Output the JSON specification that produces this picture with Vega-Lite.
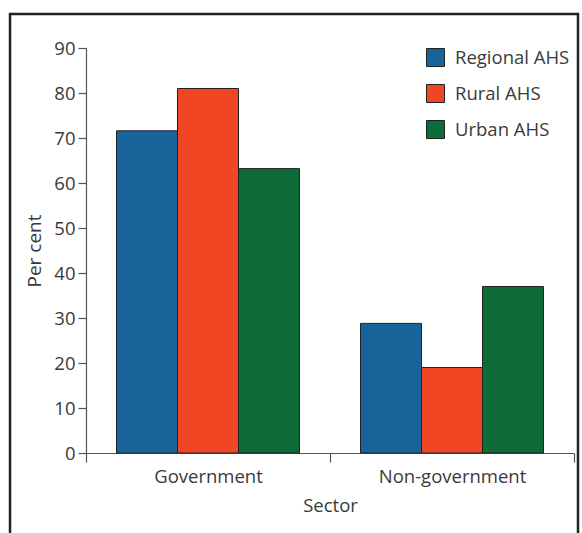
{
  "$schema": "https://vega.github.io/schema/vega-lite/v6.json",
  "width": 488,
  "height": 405,
  "autosize": {"type": "none"},
  "padding": {"left": 86, "top": 48, "right": 8, "bottom": 80},
  "background": "white",
  "config": {"view": {"stroke": null}, "font": "Open Sans"},
  "layer": [
    {
      "data": {"values": [
        {"sector": "Government", "hospital": "Regional AHS", "percent": 71.6},
        {"sector": "Government", "hospital": "Rural AHS", "percent": 81.0},
        {"sector": "Government", "hospital": "Urban AHS", "percent": 63.2},
        {"sector": "Non-government", "hospital": "Regional AHS", "percent": 28.8},
        {"sector": "Non-government", "hospital": "Rural AHS", "percent": 19.0},
        {"sector": "Non-government", "hospital": "Urban AHS", "percent": 37.0}
      ]},
      "mark": {"type": "bar", "stroke": "#222", "strokeWidth": 1},
      "encoding": {
        "x": {
          "field": "sector", "type": "nominal", "sort": ["Government", "Non-government"],
          "scale": {"paddingInner": 0, "paddingOuter": 0},
          "axis": {"title": "Sector", "labelAngle": 0, "tickBand": "extent", "tickSize": 9,
            "labelFontSize": 18.5, "labelColor": "#3a3a3a", "labelPadding": 5, "labelFontWeight": "normal",
            "titleFontSize": 18.5, "titleFontWeight": "normal", "titleColor": "#3a3a3a", "titlePadding": 11,
            "domainColor": "#555", "tickColor": "#555", "domainWidth": 1.2, "tickWidth": 1.2}
        },
        "xOffset": {
          "field": "hospital", "type": "nominal", "sort": ["Regional AHS", "Rural AHS", "Urban AHS"],
          "scale": {"paddingInner": 0, "paddingOuter": 0.5}
        },
        "y": {
          "field": "percent", "type": "quantitative",
          "scale": {"domain": [0, 90], "nice": false},
          "axis": {"title": "Per cent", "values": [0, 10, 20, 30, 40, 50, 60, 70, 80, 90], "grid": false,
            "tickSize": 8, "labelFontSize": 18.5, "labelColor": "#3a3a3a", "labelPadding": 3,
            "titleFontSize": 19, "titleFontWeight": "normal", "titleColor": "#3a3a3a", "titlePadding": 9,
            "domainColor": "#555", "tickColor": "#555", "domainWidth": 1.2, "tickWidth": 1.2}
        },
        "color": {
          "field": "hospital", "type": "nominal",
          "scale": {"domain": ["Regional AHS", "Rural AHS", "Urban AHS"], "range": ["#17639a", "#f04623", "#0f6b38"]},
          "legend": {"title": null, "orient": "none", "legendX": 340, "legendY": 0,
            "symbolType": "square", "symbolSize": 324, "symbolStrokeColor": "#222", "symbolStrokeWidth": 1,
            "symbolOpacity": 1,
            "labelFontSize": 18.5, "labelColor": "#3a3a3a", "labelOffset": 10, "rowPadding": 13}
        }
      }
    },
    {
      "data": {"values": [{}]},
      "mark": {"type": "rect", "fill": null, "stroke": "#222", "strokeWidth": 2.5, "clip": false},
      "encoding": {
        "x": {"datum": -0.1557, "type": "quantitative", "scale": {"domain": [0, 1], "nice": false, "zero": false}, "axis": null},
        "x2": {"datum": 1.0082},
        "y": {"datum": -0.21, "type": "quantitative", "scale": {"domain": [0, 1], "nice": false, "zero": false}, "axis": null},
        "y2": {"datum": 1.084}
      }
    }
  ],
  "resolve": {"scale": {"x": "independent", "y": "independent"}}
}
